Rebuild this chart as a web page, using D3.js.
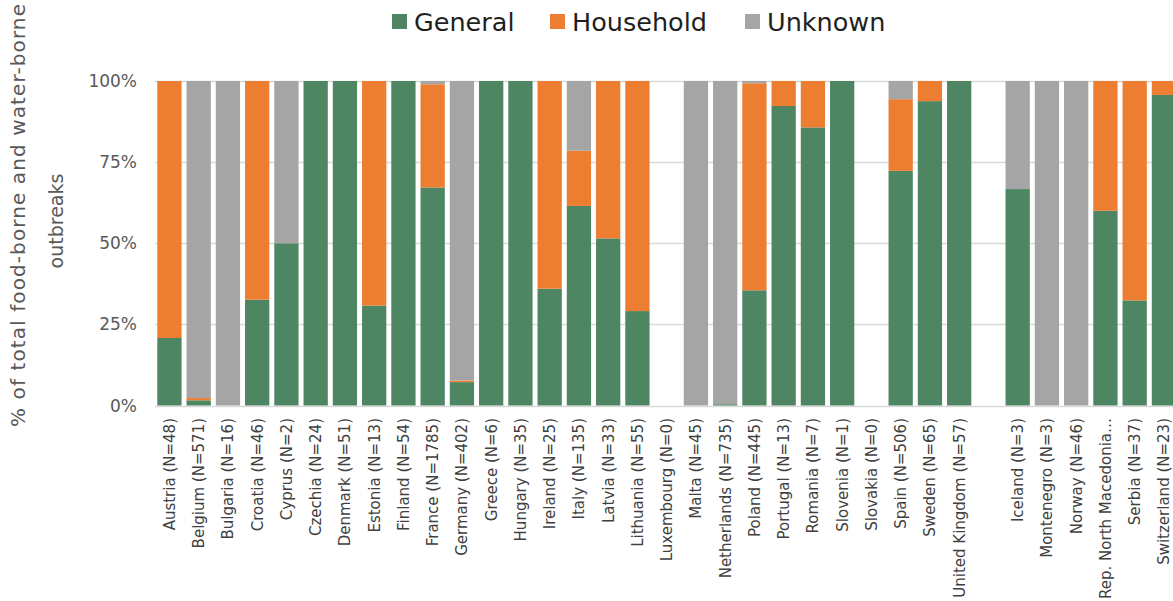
<!DOCTYPE html>
<html>
<head>
<meta charset="utf-8">
<script src="https://cdn.jsdelivr.net/npm/d3@7"></script>
<style>
  body { margin: 0; background: #fff; }
  svg { display: block; font-family: "DejaVu Sans", Verdana, sans-serif; }
</style>
</head>
<body>
<div id="chart"></div>
<script>

// countries in chart order, "" is the empty slot between EU and non-EU
let countries = ["Austria (N=48)", "Belgium (N=571)", "Bulgaria (N=16)", "Croatia (N=46)", "Cyprus (N=2)",
	"Czechia (N=24)", "Denmark (N=51)", "Estonia (N=13)", "Finland (N=54)", "France (N=1785)",
	"Germany (N=402)", "Greece (N=6)", "Hungary (N=35)", "Ireland (N=25)", "Italy (N=135)",
	"Latvia (N=33)", "Lithuania (N=55)", "Luxembourg (N=0)", "Malta (N=45)", "Netherlands (N=735)",
	"Poland (N=445)", "Portugal (N=13)", "Romania (N=7)", "Slovenia (N=1)", "Slovakia (N=0)",
	"Spain (N=506)", "Sweden (N=65)", "United Kingdom (N=57)", "",
	"Iceland (N=3)", "Montenegro (N=3)", "Norway (N=46)", "Rep. North Macedonia\u2026", "Serbia (N=37)", "Switzerland (N=23)"];

// shares in %
let general = [20.8, 1.6, 0, 32.6, 50, 100, 100, 30.8, 100, 67.2, 7.2, 100, 100, 36, 61.5,
	51.5, 29.1, 0, 0, 0.4, 35.5, 92.3, 85.7, 100, 0, 72.3, 93.8, 100, 0,
	66.7, 0, 0, 60, 32.4, 95.7];
let household = [79.2, 0.7, 0, 67.4, 0, 0, 0, 69.2, 0, 31.8, 0.5, 0, 0, 64, 17,
	48.5, 70.9, 0, 0, 0, 63.8, 7.7, 14.3, 0, 0, 22.1, 6.2, 0, 0,
	0, 0, 0, 40, 67.6, 4.3];
let unknown = [0, 97.7, 100, 0, 50, 0, 0, 0, 0, 1, 92.3, 0, 0, 0, 21.5,
	0, 0, 0, 100, 99.6, 0.7, 0, 0, 0, 0, 5.6, 0, 0, 0,
	33.3, 100, 100, 0, 0, 0];

let seriesNames = ["General", "Household", "Unknown"];
let seriesColors = ["#4e8664", "#ed7d31", "#a5a5a5"];
let yTicks = [0, 25, 50, 75, 100];

let width = 1173, height = 601;

let svg = d3.select("#chart").append("svg")
	.attr("width", width)
	.attr("height", height);

// slot keys so the empty slot is unique
let keys = countries.map(function (c, i) { return i; });

let rows = keys.map(function (i) {
	return { key: i, label: countries[i], General: general[i], Household: household[i], Unknown: unknown[i] };
});

let x = d3.scaleBand()
	.domain(keys)
	.range([154.8, 154.8 + 35 * 29.25])
	.paddingInner(0.17)
	.paddingOuter(0.085);

let y = d3.scaleLinear()
	.domain([0, 100])
	.range([405.5, 81]);

// gridlines
svg.append("g")
	.selectAll("line")
	.data(yTicks)
	.enter()
	.append("line")
	.attr("x1", 155)
	.attr("x2", width)
	.attr("y1", function (d) { return Math.round(y(d)) + 0.5; })
	.attr("y2", function (d) { return Math.round(y(d)) + 0.5; })
	.attr("stroke", "#d9d9d9")
	.attr("stroke-width", 1.3);

// y tick labels
svg.append("g")
	.selectAll("text")
	.data(yTicks)
	.enter()
	.append("text")
	.attr("x", 137)
	.attr("y", function (d) { return y(d); })
	.attr("dy", "0.36em")
	.attr("text-anchor", "end")
	.style("font-size", "17px")
	.style("fill", "#595959")
	.text(function (d) { return d + "%"; });

// stacked bars
let stack = d3.stack().keys(seriesNames);
let layers = stack(rows);

svg.append("g")
	.selectAll("g")
	.data(layers)
	.enter()
	.append("g")
	.attr("fill", function (d, i) { return seriesColors[i]; })
	.selectAll("rect")
	.data(function (d) { return d; })
	.enter()
	.append("rect")
	.attr("x", function (d) { return x(d.data.key); })
	.attr("width", x.bandwidth())
	.attr("y", function (d) { return y(d[1]); })
	.attr("height", function (d) { return Math.max(0, y(d[0]) - y(d[1])); });

// x labels
svg.append("g")
	.selectAll("text")
	.data(rows)
	.enter()
	.append("text")
	.attr("transform", function (d) {
		return "translate(" + (x(d.key) + x.bandwidth() / 2 + 0.3) + ",418) rotate(-90)";
	})
	.attr("dy", "0.34em")
	.attr("text-anchor", "end")
	.style("font-size", "15px")
	.style("fill", "#404040")
	.text(function (d) { return d.label; });

// y axis title, first line starts at the bottom and runs off the top like the original
let yTitle = svg.append("text")
	.attr("transform", "rotate(-90)")
	.style("font-size", "20px")
	.style("fill", "#595959");
yTitle.append("tspan")
	.attr("x", -427)
	.attr("y", 25)
	.style("letter-spacing", "1.1px")
	.text("% of total food-borne and water-borne");
yTitle.append("tspan")
	.attr("x", -221)
	.attr("y", 63)
	.attr("text-anchor", "middle")
	.style("font-size", "19px")
	.text("outbreaks");

// legend
let legendX = [392, 550, 745];
let legend = svg.append("g")
	.selectAll("g")
	.data(seriesNames)
	.enter()
	.append("g")
	.attr("transform", function (d, i) { return "translate(" + legendX[i] + ",14)"; });

legend.append("rect")
	.attr("width", 15)
	.attr("height", 15)
	.attr("y", 0)
	.attr("fill", function (d, i) { return seriesColors[i]; });

legend.append("text")
	.attr("x", 22)
	.attr("y", 8)
	.attr("dy", "0.36em")
	.style("font-size", "25.5px")
	.style("fill", "#1f1f1f")
	.text(function (d) { return d; });

</script>
</body>
</html>
